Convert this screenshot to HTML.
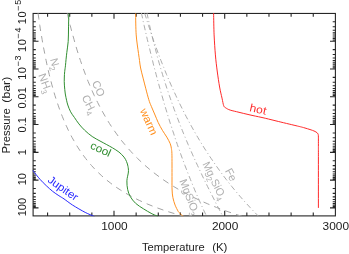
<!DOCTYPE html><html><head><meta charset="utf-8"><style>html,body{margin:0;padding:0;background:#fff}</style></head><body><svg width="349" height="254" viewBox="0 0 349 254" style="display:block;will-change:transform;font-family:'Liberation Sans',sans-serif">
<rect x="0" y="0" width="349" height="254" fill="#fff"/>
<defs><clipPath id="c"><rect x="32.65" y="13.00" width="303.20" height="203.35"/></clipPath></defs>
<g stroke="#262626" stroke-width="1" fill="none" shape-rendering="auto">
<rect x="33.1" y="13.45" width="302.29999999999995" height="202.45000000000002" stroke-width="1.1"/>
<path d="M47.58,215.9v-3.3M47.58,13.45v3.3M69.72,215.9v-3.3M69.72,13.45v3.3M91.86,215.9v-3.3M91.86,13.45v3.3M114.00,215.9v-5.2M114.00,13.45v5.2M136.14,215.9v-3.3M136.14,13.45v3.3M158.28,215.9v-3.3M158.28,13.45v3.3M180.42,215.9v-3.3M180.42,13.45v3.3M202.56,215.9v-3.3M202.56,13.45v3.3M224.70,215.9v-5.2M224.70,13.45v5.2M246.84,215.9v-3.3M246.84,13.45v3.3M268.98,215.9v-3.3M268.98,13.45v3.3M291.12,215.9v-3.3M291.12,13.45v3.3M313.26,215.9v-3.3M313.26,13.45v3.3M33.1,21.81h2.7M335.4,21.81h-2.7M33.1,26.70h2.7M335.4,26.70h-2.7M33.1,30.18h2.7M335.4,30.18h-2.7M33.1,32.87h2.7M335.4,32.87h-2.7M33.1,35.07h2.7M335.4,35.07h-2.7M33.1,36.93h2.7M335.4,36.93h-2.7M33.1,38.54h2.7M335.4,38.54h-2.7M33.1,39.96h2.7M335.4,39.96h-2.7M33.1,41.23h5.4M335.4,41.23h-5.4M33.1,49.59h2.7M335.4,49.59h-2.7M33.1,54.48h2.7M335.4,54.48h-2.7M33.1,57.96h2.7M335.4,57.96h-2.7M33.1,60.65h2.7M335.4,60.65h-2.7M33.1,62.85h2.7M335.4,62.85h-2.7M33.1,64.71h2.7M335.4,64.71h-2.7M33.1,66.32h2.7M335.4,66.32h-2.7M33.1,67.74h2.7M335.4,67.74h-2.7M33.1,69.01h5.4M335.4,69.01h-5.4M33.1,77.37h2.7M335.4,77.37h-2.7M33.1,82.26h2.7M335.4,82.26h-2.7M33.1,85.74h2.7M335.4,85.74h-2.7M33.1,88.43h2.7M335.4,88.43h-2.7M33.1,90.63h2.7M335.4,90.63h-2.7M33.1,92.49h2.7M335.4,92.49h-2.7M33.1,94.10h2.7M335.4,94.10h-2.7M33.1,95.52h2.7M335.4,95.52h-2.7M33.1,96.79h5.4M335.4,96.79h-5.4M33.1,105.15h2.7M335.4,105.15h-2.7M33.1,110.04h2.7M335.4,110.04h-2.7M33.1,113.52h2.7M335.4,113.52h-2.7M33.1,116.21h2.7M335.4,116.21h-2.7M33.1,118.41h2.7M335.4,118.41h-2.7M33.1,120.27h2.7M335.4,120.27h-2.7M33.1,121.88h2.7M335.4,121.88h-2.7M33.1,123.30h2.7M335.4,123.30h-2.7M33.1,124.57h5.4M335.4,124.57h-5.4M33.1,132.93h2.7M335.4,132.93h-2.7M33.1,137.82h2.7M335.4,137.82h-2.7M33.1,141.30h2.7M335.4,141.30h-2.7M33.1,143.99h2.7M335.4,143.99h-2.7M33.1,146.19h2.7M335.4,146.19h-2.7M33.1,148.05h2.7M335.4,148.05h-2.7M33.1,149.66h2.7M335.4,149.66h-2.7M33.1,151.08h2.7M335.4,151.08h-2.7M33.1,152.35h5.4M335.4,152.35h-5.4M33.1,160.71h2.7M335.4,160.71h-2.7M33.1,165.60h2.7M335.4,165.60h-2.7M33.1,169.08h2.7M335.4,169.08h-2.7M33.1,171.77h2.7M335.4,171.77h-2.7M33.1,173.97h2.7M335.4,173.97h-2.7M33.1,175.83h2.7M335.4,175.83h-2.7M33.1,177.44h2.7M335.4,177.44h-2.7M33.1,178.86h2.7M335.4,178.86h-2.7M33.1,180.13h5.4M335.4,180.13h-5.4M33.1,188.49h2.7M335.4,188.49h-2.7M33.1,193.38h2.7M335.4,193.38h-2.7M33.1,196.86h2.7M335.4,196.86h-2.7M33.1,199.55h2.7M335.4,199.55h-2.7M33.1,201.75h2.7M335.4,201.75h-2.7M33.1,203.61h2.7M335.4,203.61h-2.7M33.1,205.22h2.7M335.4,205.22h-2.7M33.1,206.64h2.7M335.4,206.64h-2.7M33.1,207.91h5.4M335.4,207.91h-5.4" stroke-width="1.1"/>
</g>
<g clip-path="url(#c)" fill="none" stroke-linecap="butt">
<path d="M141.1,11.4C141.2,12.0 141.6,13.8 141.8,14.9C142.1,16.1 142.3,17.3 142.6,18.4C142.8,19.6 143.1,20.8 143.3,21.9C143.6,23.1 143.9,24.3 144.1,25.4C144.4,26.6 144.7,27.8 144.9,28.9C145.2,30.1 145.4,31.3 145.7,32.4C146.0,33.6 146.3,34.8 146.5,35.9C146.8,37.1 147.1,38.3 147.3,39.4C147.6,40.6 147.9,41.8 148.2,42.9C148.4,44.1 148.7,45.3 149.0,46.4C149.3,47.6 149.6,48.8 149.9,49.9C150.1,51.1 150.4,52.3 150.7,53.4C151.0,54.6 151.3,55.8 151.6,56.9C151.9,58.1 152.2,59.3 152.5,60.4C152.8,61.6 153.0,62.8 153.3,63.9C153.6,65.1 153.9,66.3 154.2,67.4C154.5,68.6 154.9,69.8 155.2,70.9C155.5,72.1 155.8,73.3 156.1,74.4C156.4,75.6 156.7,76.8 157.0,77.9C157.3,79.1 157.6,80.3 158.0,81.4C158.3,82.6 158.6,83.8 158.9,84.9C159.2,86.1 159.6,87.3 159.9,88.4C160.2,89.6 160.5,90.8 160.9,91.9C161.2,93.1 161.5,94.3 161.9,95.4C162.2,96.6 162.5,97.8 162.9,98.9C163.2,100.1 163.6,101.3 163.9,102.4C164.2,103.6 164.6,104.8 164.9,105.9C165.3,107.1 165.6,108.3 166.0,109.4C166.3,110.6 166.7,111.8 167.1,112.9C167.4,114.1 167.8,115.3 168.1,116.4C168.5,117.6 168.9,118.8 169.2,119.9C169.6,121.1 170.0,122.3 170.3,123.4C170.7,124.6 171.1,125.8 171.5,126.9C171.8,128.1 172.2,129.3 172.6,130.4C173.0,131.6 173.4,132.8 173.8,133.9C174.1,135.1 174.5,136.3 174.9,137.4C175.3,138.6 175.7,139.8 176.1,140.9C176.5,142.1 176.9,143.3 177.3,144.4C177.7,145.6 178.1,146.8 178.5,147.9C179.0,149.1 179.4,150.2 179.8,151.4C180.2,152.6 180.6,153.7 181.0,154.9C181.5,156.1 181.9,157.2 182.3,158.4C182.8,159.6 183.2,160.7 183.6,161.9C184.1,163.1 184.5,164.2 184.9,165.4C185.4,166.6 185.8,167.7 186.3,168.9C186.7,170.1 187.2,171.2 187.6,172.4C188.1,173.6 188.5,174.7 189.0,175.9C189.5,177.1 189.9,178.2 190.4,179.4C190.9,180.6 191.3,181.7 191.8,182.9C192.3,184.1 192.8,185.2 193.3,186.4C193.8,187.6 194.2,188.7 194.7,189.9C195.2,191.1 195.7,192.2 196.2,193.4C196.7,194.6 197.2,195.7 197.7,196.9C198.2,198.1 198.8,199.2 199.3,200.4C199.8,201.6 200.3,202.7 200.8,203.9C201.4,205.1 201.9,206.2 202.4,207.4C203.0,208.6 203.5,209.7 204.0,210.9C204.6,212.1 205.1,213.2 205.7,214.4C206.2,215.6 207.1,217.3 207.4,217.9" stroke="#a4a4a4" stroke-width="0.9" stroke-dasharray="5.5 2.825 1 2.825" stroke-dashoffset="-1.60"/>
<path d="M146.7,11.4C146.8,12.0 147.2,13.8 147.4,14.9C147.6,16.1 147.9,17.3 148.1,18.4C148.4,19.6 148.6,20.8 148.9,21.9C149.1,23.1 149.4,24.3 149.6,25.4C149.9,26.6 150.2,27.8 150.4,28.9C150.7,30.1 151.0,31.3 151.2,32.4C151.5,33.6 151.8,34.8 152.1,35.9C152.3,37.1 152.6,38.3 152.9,39.4C153.2,40.6 153.5,41.8 153.8,42.9C154.1,44.1 154.4,45.3 154.7,46.4C155.0,47.6 155.3,48.8 155.6,49.9C155.9,51.1 156.2,52.3 156.5,53.4C156.8,54.6 157.1,55.8 157.4,56.9C157.8,58.1 158.1,59.3 158.4,60.4C158.7,61.6 159.1,62.8 159.4,63.9C159.7,65.1 160.1,66.3 160.4,67.4C160.8,68.6 161.1,69.8 161.5,70.9C161.8,72.1 162.1,73.3 162.5,74.4C162.9,75.6 163.2,76.8 163.6,77.9C163.9,79.1 164.3,80.3 164.7,81.4C165.0,82.6 165.4,83.8 165.8,84.9C166.2,86.1 166.5,87.3 166.9,88.4C167.3,89.6 167.7,90.8 168.1,91.9C168.5,93.1 168.9,94.3 169.3,95.4C169.7,96.6 170.1,97.8 170.5,98.9C170.9,100.1 171.3,101.3 171.7,102.4C172.1,103.6 172.5,104.8 173.0,105.9C173.4,107.1 173.8,108.3 174.2,109.4C174.7,110.6 175.1,111.8 175.5,112.9C176.0,114.1 176.4,115.3 176.8,116.4C177.3,117.6 177.7,118.8 178.2,119.9C178.6,121.1 179.1,122.3 179.5,123.4C180.0,124.6 180.4,125.8 180.9,126.9C181.4,128.1 181.8,129.3 182.3,130.4C182.8,131.6 183.3,132.8 183.7,133.9C184.2,135.1 184.7,136.3 185.2,137.4C185.7,138.6 186.1,139.8 186.6,140.9C187.1,142.1 187.6,143.3 188.1,144.4C188.6,145.6 189.1,146.8 189.6,147.9C190.1,149.1 190.7,150.2 191.2,151.4C191.7,152.6 192.2,153.7 192.7,154.9C193.2,156.1 193.8,157.2 194.3,158.4C194.8,159.6 195.3,160.7 195.9,161.9C196.4,163.1 196.9,164.2 197.5,165.4C198.0,166.6 198.6,167.7 199.1,168.9C199.7,170.1 200.2,171.2 200.8,172.4C201.3,173.6 201.9,174.7 202.4,175.9C203.0,177.1 203.5,178.2 204.1,179.4C204.7,180.6 205.2,181.7 205.8,182.9C206.4,184.1 207.0,185.2 207.5,186.4C208.1,187.6 208.7,188.7 209.3,189.9C209.8,191.1 210.4,192.2 211.0,193.4C211.6,194.6 212.2,195.7 212.8,196.9C213.4,198.1 214.0,199.2 214.6,200.4C215.1,201.6 215.7,202.7 216.3,203.9C216.9,205.1 217.5,206.2 218.1,207.4C218.7,208.6 219.3,209.7 220.0,210.9C220.6,212.1 221.2,213.2 221.8,214.4C222.4,215.6 223.3,217.3 223.6,217.9" stroke="#a4a4a4" stroke-width="0.9" stroke-dasharray="5.5 2.815 1 2.815" stroke-dashoffset="-1.60"/>
<path d="M144.1,11.4C144.3,12.0 144.8,13.8 145.2,14.9C145.6,16.1 145.9,17.3 146.3,18.4C146.7,19.6 147.0,20.8 147.4,21.9C147.8,23.1 148.1,24.3 148.5,25.4C148.9,26.6 149.3,27.8 149.7,28.9C150.1,30.1 150.4,31.3 150.8,32.4C151.2,33.6 151.6,34.8 152.0,35.9C152.4,37.1 152.8,38.3 153.2,39.4C153.6,40.6 154.0,41.8 154.5,42.9C154.9,44.1 155.3,45.3 155.7,46.4C156.1,47.6 156.6,48.8 157.0,49.9C157.4,51.1 157.8,52.3 158.3,53.4C158.7,54.6 159.1,55.8 159.6,56.9C160.0,58.1 160.5,59.3 160.9,60.4C161.4,61.6 161.8,62.8 162.3,63.9C162.8,65.1 163.2,66.3 163.7,67.4C164.2,68.6 164.6,69.8 165.1,70.9C165.6,72.1 166.1,73.3 166.5,74.4C167.0,75.6 167.5,76.8 168.0,77.9C168.5,79.1 169.0,80.3 169.5,81.4C170.0,82.6 170.5,83.8 171.0,84.9C171.5,86.1 172.1,87.3 172.6,88.4C173.1,89.6 173.6,90.8 174.2,91.9C174.7,93.1 175.2,94.3 175.8,95.4C176.3,96.6 176.9,97.8 177.4,98.9C178.0,100.1 178.5,101.3 179.1,102.4C179.7,103.6 180.2,104.8 180.8,105.9C181.4,107.1 182.0,108.3 182.6,109.4C183.1,110.6 183.7,111.8 184.3,112.9C184.9,114.1 185.5,115.3 186.1,116.4C186.8,117.6 187.4,118.8 188.0,119.9C188.6,121.1 189.3,122.3 189.9,123.4C190.5,124.6 191.2,125.8 191.8,126.9C192.5,128.1 193.1,129.3 193.8,130.4C194.4,131.6 195.1,132.8 195.8,133.9C196.5,135.1 197.1,136.3 197.8,137.4C198.5,138.6 199.2,139.8 199.9,140.9C200.6,142.1 201.3,143.3 202.1,144.4C202.8,145.6 203.5,146.8 204.2,147.9C205.0,149.1 205.7,150.2 206.5,151.4C207.2,152.6 208.0,153.7 208.8,154.9C209.5,156.1 210.3,157.2 211.1,158.4C211.9,159.6 212.7,160.7 213.5,161.9C214.3,163.1 215.1,164.2 215.9,165.4C216.7,166.6 217.6,167.7 218.4,168.9C219.2,170.1 220.1,171.2 220.9,172.4C221.8,173.6 222.7,174.7 223.5,175.9C224.4,177.1 225.3,178.2 226.2,179.4C227.1,180.6 228.0,181.7 228.9,182.9C229.9,184.1 230.8,185.2 231.7,186.4C232.7,187.6 233.6,188.7 234.6,189.9C235.6,191.1 236.5,192.2 237.5,193.4C238.5,194.6 239.5,195.7 240.5,196.9C241.5,198.1 242.6,199.2 243.6,200.4C244.6,201.6 245.7,202.7 246.8,203.9C247.8,205.1 248.9,206.2 250.0,207.4C251.1,208.6 252.2,209.7 253.3,210.9C254.4,212.1 255.6,213.2 256.7,214.4C257.9,215.6 259.6,217.3 260.2,217.9" stroke="#a4a4a4" stroke-width="0.9" stroke-dasharray="5.5 2.815 1 2.815" stroke-dashoffset="-1.87"/>
<path d="M37.8,11.4C37.9,12.0 38.1,13.8 38.3,14.9C38.4,16.1 38.6,17.3 38.8,18.4C38.9,19.6 39.1,20.8 39.3,21.9C39.4,23.1 39.6,24.3 39.8,25.4C40.0,26.6 40.2,27.8 40.3,28.9C40.5,30.1 40.7,31.3 40.9,32.4C41.1,33.6 41.3,34.8 41.5,35.9C41.7,37.1 41.9,38.3 42.1,39.4C42.3,40.6 42.5,41.8 42.7,42.9C42.9,44.1 43.1,45.3 43.3,46.4C43.5,47.6 43.8,48.8 44.0,49.9C44.2,51.1 44.4,52.3 44.7,53.4C44.9,54.6 45.1,55.8 45.4,56.9C45.6,58.1 45.8,59.3 46.1,60.4C46.3,61.6 46.6,62.8 46.8,63.9C47.1,65.1 47.3,66.3 47.6,67.4C47.9,68.6 48.1,69.8 48.4,70.9C48.7,72.1 48.9,73.3 49.2,74.4C49.5,75.6 49.8,76.8 50.1,77.9C50.4,79.1 50.7,80.3 51.0,81.4C51.3,82.6 51.6,83.8 51.9,84.9C52.2,86.1 52.6,87.3 52.9,88.4C53.2,89.6 53.6,90.8 53.9,91.9C54.2,93.1 54.6,94.3 54.9,95.4C55.3,96.6 55.7,97.8 56.0,98.9C56.4,100.1 56.8,101.3 57.2,102.4C57.6,103.6 58.0,104.8 58.4,105.9C58.8,107.1 59.2,108.3 59.6,109.4C60.0,110.6 60.5,111.8 60.9,112.9C61.4,114.1 61.8,115.3 62.3,116.4C62.7,117.6 63.2,118.8 63.7,119.9C64.2,121.1 64.7,122.3 65.2,123.4C65.7,124.6 66.2,125.8 66.8,126.9C67.3,128.1 67.9,129.3 68.4,130.4C69.0,131.6 69.6,132.8 70.2,133.9C70.8,135.1 71.4,136.3 72.0,137.4C72.7,138.6 73.3,139.8 74.0,140.9C74.6,142.1 75.3,143.3 76.0,144.4C76.7,145.6 77.5,146.8 78.2,147.9C79.0,149.1 79.7,150.2 80.5,151.4C81.3,152.6 82.1,153.7 83.0,154.9C83.8,156.1 84.7,157.2 85.6,158.4C86.5,159.6 87.4,160.7 88.4,161.9C89.4,163.1 90.4,164.2 91.4,165.4C92.4,166.6 93.5,167.7 94.6,168.9C95.7,170.1 96.9,171.2 98.1,172.4C99.3,173.6 100.5,174.7 101.8,175.9C103.1,177.1 104.5,178.2 105.9,179.4C107.3,180.6 108.7,181.7 110.3,182.9C111.8,184.1 113.4,185.2 115.0,186.4C116.7,187.6 118.4,188.7 120.3,189.9C122.1,191.1 124.0,192.2 126.0,193.4C128.0,194.6 130.1,195.7 132.3,196.9C134.5,198.1 136.9,199.2 139.3,200.4C141.8,201.6 144.4,202.7 147.1,203.9C149.9,205.1 152.8,206.2 155.9,207.4C159.0,208.6 162.3,209.7 165.8,210.9C169.3,212.1 173.1,213.2 177.1,214.4C181.1,215.6 187.9,217.3 190.0,217.9" stroke="#a4a4a4" stroke-width="1" stroke-dasharray="6.4 5.17" stroke-dashoffset="-1.8"/>
<path d="M66.9,11.4C67.0,12.0 67.4,13.8 67.7,14.9C67.9,16.1 68.2,17.3 68.5,18.4C68.8,19.6 69.1,20.8 69.3,21.9C69.6,23.1 69.9,24.3 70.2,25.4C70.5,26.6 70.8,27.8 71.1,28.9C71.4,30.1 71.7,31.3 72.0,32.4C72.3,33.6 72.7,34.8 73.0,35.9C73.3,37.1 73.6,38.3 74.0,39.4C74.3,40.6 74.6,41.8 75.0,42.9C75.3,44.1 75.6,45.3 76.0,46.4C76.3,47.6 76.7,48.8 77.0,49.9C77.4,51.1 77.8,52.3 78.1,53.4C78.5,54.6 78.9,55.8 79.2,56.9C79.6,58.1 80.0,59.3 80.4,60.4C80.8,61.6 81.2,62.8 81.6,63.9C82.0,65.1 82.4,66.3 82.8,67.4C83.2,68.6 83.7,69.8 84.1,70.9C84.5,72.1 85.0,73.3 85.4,74.4C85.8,75.6 86.3,76.8 86.7,77.9C87.2,79.1 87.7,80.3 88.1,81.4C88.6,82.6 89.1,83.8 89.6,84.9C90.1,86.1 90.6,87.3 91.1,88.4C91.6,89.6 92.1,90.8 92.6,91.9C93.1,93.1 93.7,94.3 94.2,95.4C94.8,96.6 95.3,97.8 95.9,98.9C96.5,100.1 97.0,101.3 97.6,102.4C98.2,103.6 98.8,104.8 99.4,105.9C100.0,107.1 100.6,108.3 101.3,109.4C101.9,110.6 102.5,111.8 103.2,112.9C103.8,114.1 104.5,115.3 105.2,116.4C105.9,117.6 106.6,118.8 107.3,119.9C108.0,121.1 108.7,122.3 109.4,123.4C110.2,124.6 110.9,125.8 111.7,126.9C112.5,128.1 113.3,129.3 114.1,130.4C114.9,131.6 115.7,132.8 116.6,133.9C117.4,135.1 118.3,136.3 119.1,137.4C120.0,138.6 120.9,139.8 121.8,140.9C122.8,142.1 123.7,143.3 124.7,144.4C125.7,145.6 126.6,146.8 127.7,147.9C128.7,149.1 129.7,150.2 130.8,151.4C131.9,152.6 132.9,153.7 134.1,154.9C135.2,156.1 136.3,157.2 137.5,158.4C138.7,159.6 139.9,160.7 141.2,161.9C142.4,163.1 143.7,164.2 145.0,165.4C146.3,166.6 147.7,167.7 149.1,168.9C150.5,170.1 151.9,171.2 153.4,172.4C154.9,173.6 156.4,174.7 158.0,175.9C159.6,177.1 161.2,178.2 162.8,179.4C164.5,180.6 166.2,181.7 168.0,182.9C169.8,184.1 171.6,185.2 173.5,186.4C175.4,187.6 177.4,188.7 179.4,189.9C181.5,191.1 183.6,192.2 185.8,193.4C188.0,194.6 190.2,195.7 192.6,196.9C194.9,198.1 197.4,199.2 199.9,200.4C202.5,201.6 205.1,202.7 207.8,203.9C210.6,205.1 213.4,206.2 216.4,207.4C219.4,208.6 222.5,209.7 225.7,210.9C229.0,212.1 232.4,213.2 235.9,214.4C239.5,215.6 245.2,217.3 247.1,217.9" stroke="#a4a4a4" stroke-width="1" stroke-dasharray="6.4 5.17" stroke-dashoffset="-2.0"/>
<path d="M32.5,170.2C32.6,170.3 32.0,169.5 33.2,171.0C34.5,172.5 37.8,176.9 40.0,179.3C42.2,181.8 44.2,183.7 46.3,185.7C48.4,187.7 50.5,189.6 52.6,191.3C54.7,193.0 57.0,194.4 58.9,195.7C60.8,197.0 61.7,197.3 64.0,198.9C66.3,200.5 69.1,202.8 72.6,205.1C76.1,207.3 81.7,210.6 85.2,212.4C88.7,214.2 91.9,215.4 93.4,216.1C95.0,216.8 94.3,216.6 94.5,216.7" stroke="#2a2aff" stroke-width="1.0"/>
<path d="M68.8,13.5C68.8,15.9 68.6,23.3 68.5,28.0C68.4,32.7 68.5,37.4 68.2,41.5C67.9,45.6 67.2,48.6 66.8,52.6C66.3,56.6 65.8,62.1 65.5,65.2C65.2,68.4 64.9,69.4 64.7,71.5C64.5,73.6 64.3,75.7 64.3,78.0C64.2,80.3 64.2,82.4 64.4,85.1C64.6,87.8 64.9,91.4 65.3,94.0C65.7,96.6 66.3,99.0 66.7,100.8C67.1,102.6 67.2,103.2 67.8,105.0C68.4,106.8 69.5,109.7 70.6,111.8C71.7,113.9 73.1,115.6 74.5,117.6C75.9,119.6 77.2,121.8 78.9,123.9C80.6,126.0 82.4,128.1 84.6,130.2C86.8,132.3 89.6,134.7 92.2,136.5C94.8,138.3 97.7,139.7 100.0,141.0C102.3,142.3 104.2,143.2 106.3,144.4C108.4,145.6 110.5,146.6 112.6,147.9C114.7,149.2 117.0,150.5 118.9,152.0C120.8,153.5 122.7,155.5 124.0,157.1C125.3,158.7 125.8,159.9 126.5,161.5C127.2,163.1 127.7,164.8 128.0,166.5C128.3,168.2 128.6,169.6 128.4,172.0C128.2,174.4 127.0,177.9 126.9,180.8C126.8,183.8 127.1,187.1 127.7,189.7C128.3,192.3 129.0,194.3 130.3,196.6C131.6,198.9 133.4,201.2 135.6,203.3C137.8,205.4 141.0,207.2 143.6,208.9C146.2,210.6 148.9,212.1 151.1,213.3C153.3,214.5 155.7,215.4 156.8,215.9C158.0,216.4 157.8,216.4 158.0,216.5" stroke="#318e31" stroke-width="1.0"/>
<path d="M135.6,13.5C135.7,17.1 135.7,28.2 136.2,34.9C136.7,41.5 137.9,49.1 138.5,53.4C139.1,57.7 139.2,58.1 139.5,60.5C139.8,62.9 140.0,65.1 140.6,68.0C141.2,70.9 142.2,74.7 143.1,78.1C143.9,81.5 144.8,84.6 145.7,88.2C146.6,91.8 147.9,96.7 148.8,99.7C149.7,102.7 150.3,103.9 151.3,106.3C152.3,108.7 153.4,111.3 154.6,114.0C155.8,116.7 156.9,119.8 158.2,122.5C159.5,125.2 161.0,127.9 162.4,130.3C163.8,132.7 165.5,134.9 166.8,137.1C168.1,139.3 169.3,141.5 170.1,143.4C170.9,145.3 171.1,146.8 171.4,148.5C171.7,150.2 171.8,150.8 171.9,153.5C172.0,156.2 172.0,160.6 172.0,165.0C172.0,169.4 172.0,175.8 172.0,180.0C172.0,184.2 171.9,187.1 172.1,190.0C172.2,192.9 172.4,195.1 172.9,197.6C173.4,200.1 174.2,202.8 175.1,205.1C176.0,207.4 177.4,210.0 178.2,211.4C179.0,212.8 179.2,212.5 180.0,213.3C180.8,214.1 182.2,215.6 182.8,216.2C183.4,216.8 183.2,216.7 183.3,216.8" stroke="#ff9020" stroke-width="1.0"/>
<path d="M213.5,11.0C213.5,11.4 213.5,9.5 213.6,13.5C213.7,17.5 213.8,28.0 214.1,34.9C214.4,41.8 214.9,48.9 215.4,54.9C215.9,60.9 216.5,65.7 217.2,71.0C217.9,76.3 218.8,82.5 219.6,87.0C220.4,91.5 221.3,95.0 222.0,98.1C222.7,101.2 223.1,104.1 223.7,105.7C224.3,107.3 224.7,107.2 225.8,107.9C226.9,108.6 228.0,109.4 230.2,110.1C232.4,110.8 235.9,111.5 239.0,112.3C242.1,113.1 245.2,113.8 249.0,114.7C252.8,115.6 257.5,116.5 262.0,117.5C266.5,118.5 270.3,119.5 276.0,120.9C281.7,122.3 291.4,124.6 296.0,125.7C300.6,126.8 301.1,126.9 303.6,127.6C306.1,128.3 309.0,129.2 311.1,129.9C313.2,130.6 314.9,131.3 316.0,132.0C317.1,132.7 317.6,133.1 318.0,133.9C318.4,134.8 318.3,135.0 318.4,137.1C318.4,139.2 318.4,142.7 318.4,146.5C318.4,150.3 318.4,149.8 318.4,160.0C318.4,170.2 318.4,199.9 318.4,207.9" stroke="#ff2a2a" stroke-width="1.0"/>
</g>
<g fill="#222" font-size="11px">
<text transform="translate(114.4,229.7) scale(1.08,1)" text-anchor="middle">1000</text>
<text transform="translate(225.1,229.7) scale(1.08,1)" text-anchor="middle">2000</text>
<text transform="translate(335.8,229.7) scale(1.08,1)" text-anchor="middle">3000</text>
<text x="142.0" y="250.9" textLength="62.6" lengthAdjust="spacingAndGlyphs">Temperature</text><text x="212.2" y="250.9" textLength="15.2" lengthAdjust="spacingAndGlyphs">(K)</text>
<g transform="translate(26.0,13.4) rotate(-90)"><text x="-10.8" y="0" textLength="12.8" lengthAdjust="spacing">10</text><text x="2.4" y="-5.2" font-size="9px" textLength="11.2" lengthAdjust="spacing">−5</text></g>
<g transform="translate(26.0,41.2) rotate(-90)"><text x="-10.8" y="0" textLength="12.8" lengthAdjust="spacing">10</text><text x="2.4" y="-5.2" font-size="9px" textLength="11.2" lengthAdjust="spacing">−4</text></g>
<g transform="translate(26.0,69.0) rotate(-90)"><text x="-10.8" y="0" textLength="12.8" lengthAdjust="spacing">10</text><text x="2.4" y="-5.2" font-size="9px" textLength="11.2" lengthAdjust="spacing">−3</text></g>
<text transform="translate(26.0,97.9) rotate(-90)" text-anchor="middle">0.01</text>
<text transform="translate(26.0,124.8) rotate(-90)" text-anchor="middle">0.1</text>
<text transform="translate(26.0,152.2) rotate(-90)" text-anchor="middle">1</text>
<text transform="translate(26.0,179.2) rotate(-90)" text-anchor="middle">10</text>
<text transform="translate(26.0,207.1) rotate(-90)" text-anchor="middle">100</text>
<g transform="translate(9.6,153.5) rotate(-90)"><text x="0" y="0" textLength="45.2" lengthAdjust="spacingAndGlyphs">Pressure</text><text x="50.8" y="0" textLength="26" lengthAdjust="spacingAndGlyphs">(bar)</text></g>
</g>
<text transform="translate(55.5,63.9) rotate(75) scale(1.0,1)" text-anchor="middle" dominant-baseline="central" fill="#b0b0b0" font-size="11px" >N<tspan font-size="8px" dy="4.2" dx="-0.4">2</tspan><tspan dy="-4.2" font-size="1px"> </tspan></text>
<text transform="translate(45.5,83.1) rotate(70) scale(1.0,1)" text-anchor="middle" dominant-baseline="central" fill="#b0b0b0" font-size="11px" >NH<tspan font-size="8px" dy="4.2" dx="-0.4">3</tspan><tspan dy="-4.2" font-size="1px"> </tspan></text>
<text transform="translate(98.7,88.4) rotate(66) scale(1.0,1)" text-anchor="middle" dominant-baseline="central" fill="#b0b0b0" font-size="11px" >CO</text>
<text transform="translate(89.5,104.3) rotate(63) scale(1.0,1)" text-anchor="middle" dominant-baseline="central" fill="#b0b0b0" font-size="11px" >CH<tspan font-size="8px" dy="4.2" dx="-0.4">4</tspan><tspan dy="-4.2" font-size="1px"> </tspan></text>
<text transform="translate(189.8,196.8) rotate(69) scale(1.0,1)" text-anchor="middle" dominant-baseline="central" fill="#b0b0b0" font-size="11px" >MgSiO<tspan font-size="8px" dy="4.2" dx="-0.4">3</tspan><tspan dy="-4.2" font-size="1px"> </tspan></text>
<text transform="translate(214.8,180.6) rotate(64) scale(0.97,1)" text-anchor="middle" dominant-baseline="central" fill="#b0b0b0" font-size="11px" >Mg<tspan font-size="8px" dy="4.2" dx="-0.4">2</tspan><tspan dy="-4.2" font-size="1px"> </tspan>SiO<tspan font-size="8px" dy="4.2" dx="-0.4">4</tspan><tspan dy="-4.2" font-size="1px"> </tspan></text>
<text transform="translate(231.2,174.6) rotate(62) scale(1.0,1)" text-anchor="middle" dominant-baseline="central" fill="#b0b0b0" font-size="11px" >Fe</text>
<text transform="translate(149.0,121.6) rotate(66) scale(1.04,1)" text-anchor="middle" dominant-baseline="central" fill="#ff9020" font-size="11px" >warm</text>
<text transform="translate(100.8,149.1) rotate(25) scale(1.07,1)" text-anchor="middle" dominant-baseline="central" fill="#318e31" font-size="11px" >cool</text>
<text transform="translate(258.1,109.2) rotate(13) scale(1.1,1)" text-anchor="middle" dominant-baseline="central" fill="#ff2a2a" font-size="11px" >hot</text>
<text transform="translate(63.2,188.2) rotate(35) scale(1.04,1)" text-anchor="middle" dominant-baseline="central" fill="#2a2aff" font-size="11px" >Jupiter</text>
</svg></body></html>
